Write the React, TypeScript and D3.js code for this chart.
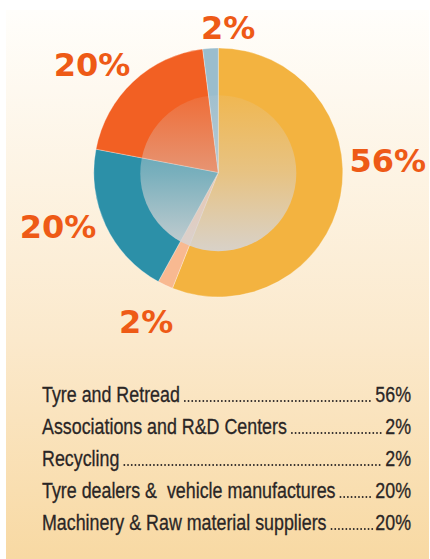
import React, { useEffect, useRef } from "react";
import * as d3 from "d3";

const categories = [
  "Tyre and Retread",
  "Associations and R&D Centers",
  "Recycling",
  "Tyre dealers &  vehicle manufactures",
  "Machinery & Raw material suppliers",
];
const legendValues = [56, 2, 2, 20, 20];

// pie order (clockwise from 12 o'clock)
const sliceNames = [
  "Tyre and Retread",
  "Associations and R&D Centers",
  "Machinery & Raw material suppliers",
  "Tyre dealers &  vehicle manufactures",
  "Recycling",
];
const sliceValues = [56, 2, 20, 20, 2];
const sliceColors = ["#F3B340", "#F8B991", "#2C90A8", "#F26023", "#9ABDCD"];

// label placement tweaks (degrees offset from slice mid-angle, radial distance)
const labelAngleNudge = [-15, 0.7, 6.6, -6.3, 7.5];
const labelRadius = [170, 165, 169, 166, 146];

const W = 430;
const H = 559;

export default function App() {
  const ref = useRef<SVGSVGElement>(null);

  useEffect(() => {
    const svg = d3.select(ref.current);
    svg.selectAll("*").remove();

    const defs = svg.append("defs");
    const bg = defs
      .append("linearGradient")
      .attr("id", "bgGrad")
      .attr("x1", 0)
      .attr("y1", 0)
      .attr("x2", 0)
      .attr("y2", 1);
    bg.append("stop").attr("offset", "0%").attr("stop-color", "#FFFEFB");
    bg.append("stop").attr("offset", "60%").attr("stop-color", "#FBE9CC");
    bg.append("stop").attr("offset", "100%").attr("stop-color", "#F8D9A3");

    const ov = defs
      .append("linearGradient")
      .attr("id", "ovGrad")
      .attr("x1", 0)
      .attr("y1", 0)
      .attr("x2", 0)
      .attr("y2", 1);
    ov.append("stop").attr("offset", "0%").attr("stop-color", "#D8D6D6").attr("stop-opacity", 0.12);
    ov.append("stop").attr("offset", "50%").attr("stop-color", "#D8D6D6").attr("stop-opacity", 0.45);
    ov.append("stop").attr("offset", "100%").attr("stop-color", "#D6D4D4").attr("stop-opacity", 0.92);

    svg
      .append("rect")
      .attr("x", 6)
      .attr("y", 10)
      .attr("width", 423)
      .attr("height", H - 10)
      .attr("fill", "url(#bgGrad)");

    const cx = 218.3;
    const cy = 172.5;
    const R = 124.5;

    const pie = d3
      .pie<number>()
      .sort(null)
      .value((d) => d);
    const arcs = pie(sliceValues);
    const arc = d3.arc<d3.PieArcDatum<number>>().innerRadius(0).outerRadius(R);

    const g = svg.append("g").attr("transform", `translate(${cx},${cy})`);
    g.selectAll("path.slice")
      .data(arcs)
      .join("path")
      .attr("class", "slice")
      .attr("d", arc)
      .attr("fill", (_d, i) => sliceColors[i])
      .attr("stroke", "#ffffff")
      .attr("stroke-opacity", 0.5)
      .attr("stroke-width", 0.6);

    g.append("circle")
      .attr("cx", 0)
      .attr("cy", 0.8)
      .attr("r", 78)
      .attr("fill", "url(#ovGrad)");

    // percentage labels
    const fs = 32;
    const cap = fs * 0.729;
    arcs.forEach((a, i) => {
      const mid = (a.startAngle + a.endAngle) / 2 + (labelAngleNudge[i] * Math.PI) / 180;
      const r = labelRadius[i];
      const x = Math.sin(mid) * r;
      const y = -Math.cos(mid) * r;
      g.append("text")
        .attr("x", x)
        .attr("y", y + cap / 2)
        .attr("text-anchor", "middle")
        .attr("font-family", "DejaVu Sans")
        .attr("font-weight", 700)
        .attr("font-size", fs)
        .attr("fill", "#EE5A16")
        .text(`${sliceValues[i]}%`);
    });

    // legend
    const lx = 42;
    const rx = 411;
    const y0 = 402;
    const dy = 32;
    const sx = 0.83;
    const lg = svg.append("g");
    categories.forEach((c, i) => {
      const by = y0 + i * dy;
      const t = lg
        .append("text")
        .attr("transform", `translate(${lx},${by}) scale(${sx},1)`)
        .attr("font-family", "'Liberation Sans', sans-serif")
        .attr("font-size", 21.5)
        .attr("fill", "#2A2626")
        .attr("stroke", "#2A2626")
        .attr("stroke-width", 0.3)
        .style("white-space", "pre")
        .text(c);
      const p = lg
        .append("text")
        .attr("transform", `translate(${rx},${by}) scale(${sx},1)`)
        .attr("text-anchor", "end")
        .attr("font-family", "'Liberation Sans', sans-serif")
        .attr("font-size", 21.5)
        .attr("fill", "#2A2626")
        .attr("stroke", "#2A2626")
        .attr("stroke-width", 0.3)
        .text(`${legendValues[i]}%`);
      const tw = (t.node() as SVGTextElement).getComputedTextLength() * sx;
      const pw = (p.node() as SVGTextElement).getComputedTextLength() * sx;
      const x1 = lx + tw + 5;
      const x2 = rx - pw - 2;
      lg.append("line")
        .attr("x1", x1)
        .attr("x2", x2)
        .attr("y1", by - 1)
        .attr("y2", by - 1)
        .attr("stroke", "#2A2626")
        .attr("stroke-width", 1.9)
        .attr("stroke-linecap", "round")
        .attr("stroke-dasharray", "0 3.7");
    });
  }, []);

  return (
    <svg
      ref={ref}
      width={W}
      height={H}
      style={{ position: "absolute", left: 0, top: 0, display: "block" }}
    />
  );
}
